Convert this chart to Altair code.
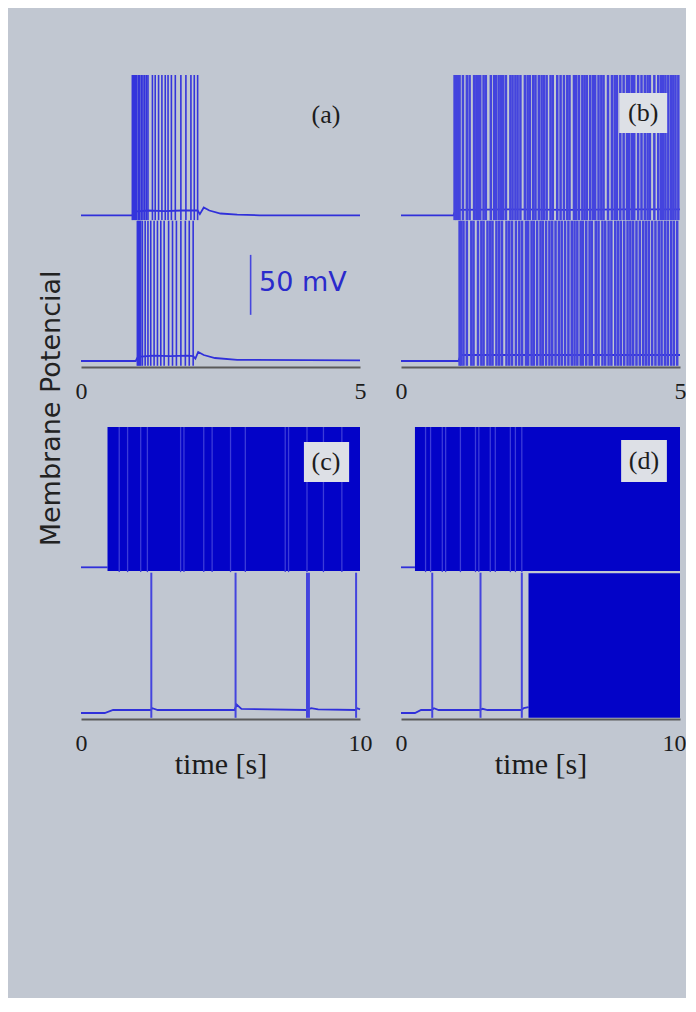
import altair as alt
import pandas as pd

# ---------------- style constants ----------------
BG = "#c1c7d1"
SPIKE = "#3434dc"
TRACE = "#3030da"
SOLID = "#0303c8"
GAP = "#3c3cd8"
BOX = "#dde0e6"
INK = "#1c1c1c"

W, H = 279, 292
Y_DOMAIN = [-70.0, 173.5]          # mV (upper trace shifted up by UP)
PEAK = 52.0
TROUGH = -69.0
UP = 121.5

# ---------------- data ----------------
# (a)  0..5 s
A_UP_SPIKES = [0.92, 0.94, 0.96, 0.98, 1.00, 1.03, 1.05, 1.08, 1.11, 1.14, 1.17, 1.20,
               1.28, 1.33, 1.39, 1.45, 1.51, 1.56, 1.62, 1.69, 1.79, 1.88, 1.97, 2.03, 2.09]
A_LO_SPIKES = [1.01, 1.03, 1.05, 1.07, 1.10, 1.15, 1.20, 1.25, 1.31, 1.37, 1.43, 1.49,
               1.57, 1.64, 1.71, 1.79, 1.87, 1.94, 2.01]
A_UP_T = [0, 0.92, 0.96, 1.2, 1.5, 1.8, 2.09, 2.13, 2.2, 2.3, 2.5, 2.8, 3.2, 5]
A_UP_V = [-65, -65, -62, -61, -61.5, -61, -61, -64, -58.5, -61, -63.5, -64.5, -65, -65]
A_LO_T = [0, 0.98, 1.02, 1.3, 1.6, 1.9, 2.01, 2.05, 2.1, 2.2, 2.4, 2.8, 5]
A_LO_V = [-65, -65, -61.5, -60.5, -61, -60.5, -61, -63, -57.5, -60, -62.5, -64, -64.5]

# (b)  0..5 s
B_UP_SPIKES = [0.96, 0.99, 1.02, 1.05, 1.11, 1.18, 1.23, 1.31, 1.35, 1.38, 1.42, 1.48, 1.52,
               1.61, 1.67, 1.70, 1.75, 1.79, 1.83, 1.88, 1.96, 2.00, 2.05, 2.09, 2.14, 2.22,
               2.27, 2.31, 2.37, 2.41, 2.47, 2.52, 2.56, 2.61, 2.68, 2.72, 2.80, 2.86, 2.92,
               2.98, 3.02, 3.10, 3.14, 3.19, 3.25, 3.29, 3.33, 3.39, 3.44, 3.48, 3.54, 3.59,
               3.63, 3.71, 3.78, 3.83, 3.87, 3.93, 3.99, 4.05, 4.09, 4.14, 4.18, 4.25, 4.31,
               4.37, 4.42, 4.46, 4.54, 4.61, 4.66, 4.70, 4.74, 4.79, 4.84, 4.88, 4.92, 4.97]
B_LO_SPIKES = [1.05, 1.08, 1.12, 1.18, 1.26, 1.30, 1.38, 1.44, 1.48, 1.55, 1.60, 1.64, 1.71,
               1.76, 1.81, 1.89, 1.94, 1.99, 2.06, 2.12, 2.17, 2.24, 2.28, 2.34, 2.38, 2.44,
               2.50, 2.54, 2.60, 2.66, 2.71, 2.77, 2.83, 2.88, 2.94, 3.00, 3.06, 3.11, 3.16,
               3.22, 3.26, 3.32, 3.38, 3.42, 3.49, 3.54, 3.61, 3.66, 3.72, 3.77, 3.84, 3.89,
               3.94, 4.00, 4.06, 4.11, 4.16, 4.22, 4.28, 4.34, 4.39, 4.44, 4.50, 4.56, 4.62,
               4.67, 4.73, 4.78, 4.84, 4.89, 4.95]
B_UP_T = [0, 0.94, 0.98, 2.0, 3.0, 4.0, 5]
B_UP_V = [-65, -65, -60.5, -60, -60.5, -60, -60]
B_LO_T = [0, 1.03, 1.07, 2.5, 5]
B_LO_V = [-65, -65, -60, -60, -60]

# (c)  0..10 s
C_UP_T = [0, 0.95]
C_UP_V = [-65, -65]
C_UP_BLOCK = [0.95, 10.0]
C_UP_GAPS = [1.37, 1.67, 2.14, 2.38, 3.57, 3.69, 4.40, 4.70, 5.36, 5.89, 7.32, 7.44, 8.10, 8.69, 9.35]
C_LO_SPIKES = [2.52, 5.54, 8.10, 8.17, 9.86]
C_LO_T = [0, 0.85, 1.15, 2.50, 2.56, 2.75, 5.50, 5.58, 5.75, 8.08, 8.25, 8.50, 9.84, 9.90, 10]
C_LO_V = [-65, -65, -62.5, -62.5, -61, -62.5, -62.5, -58, -61.5, -62.5, -61, -62, -62.5, -61, -62]

# (d)  0..10 s
D_UP_T = [0, 0.5]
D_UP_V = [-65, -65]
D_UP_BLOCK = [0.5, 10.0]
D_UP_GAPS = [0.88, 1.06, 1.48, 1.60, 2.13, 2.67, 2.79, 3.20, 3.38, 3.92, 4.10, 4.33]
D_LO_SPIKES = [1.12, 2.85, 4.33]
D_LO_T = [0, 0.5, 0.72, 1.10, 1.18, 1.35, 2.83, 2.92, 3.1, 4.30, 4.40, 4.57]
D_LO_V = [-65, -65, -62.5, -62.5, -61, -62.5, -62.5, -61.5, -62.5, -62.5, -61, -60]
D_LO_BLOCK = [4.57, 10.0]

PANEL_LABELS = ["(a)", "(b)", "(c)", "(d)"]


# ---------------- helpers ----------------
def xenc(xmax, title, flush=False):
    extra = {"labelFlush": True, "labelFlushOffset": 6} if flush else {"labelFlush": False}
    return alt.X(
        "t:Q",
        scale=alt.Scale(domain=[0, xmax], nice=False, zero=False),
        axis=alt.Axis(values=[0, xmax], format="d", labelFont="Liberation Serif",
                      labelFontSize=24, labelColor=INK, labelPadding=12, ticks=False,
                      grid=False, domainColor="#5a5a5a", domainWidth=2,
                      labelOverlap=False,
                      title=title, titleFont="Liberation Serif", titleFontSize=30,
                      titleFontWeight="normal", titleColor=INK, titlePadding=-6, **extra),
    )


def yenc(field="v"):
    return alt.Y(f"{field}:Q", scale=alt.Scale(domain=Y_DOMAIN, nice=False, zero=False), axis=None)


def spikes(times, offset, X, color=SPIKE, width=1.6):
    df = pd.DataFrame({"t": times, "v": [TROUGH + offset] * len(times),
                       "v2": [PEAK + offset] * len(times)})
    return alt.Chart(df).mark_rule(color=color, strokeWidth=width).encode(
        x=X, y=yenc(), y2="v2:Q")


def trace(ts, vs, offset, X):
    df = pd.DataFrame({"t": ts, "v": [v + offset for v in vs]})
    return alt.Chart(df).mark_line(color=TRACE, strokeWidth=1.8).encode(x=X, y=yenc())


def block(span, lo, hi, offset, X):
    df = pd.DataFrame({"t": [span[0]], "t2": [span[1]], "v": [lo + offset], "v2": [hi + offset]})
    return alt.Chart(df).mark_rect(color=SOLID).encode(x=X, x2="t2:Q", y=yenc(), y2="v2:Q")


def label(text, t, v, box, X):
    layers = []
    if box is not None:
        bdf = pd.DataFrame({"t": [box[0]], "t2": [box[1]], "v": [box[2]], "v2": [box[3]]})
        layers.append(alt.Chart(bdf).mark_rect(color=BOX).encode(
            x=X, x2="t2:Q", y=yenc(), y2="v2:Q"))
    tdf = pd.DataFrame({"t": [t], "v": [v], "s": [text]})
    layers.append(alt.Chart(tdf).mark_text(font="Liberation Serif", fontSize=26, color=INK,
                                           align="center", baseline="middle").encode(
        x=X, y=yenc(), text="s:N"))
    return layers


# ---------------- panels ----------------
XA = xenc(5, "")
XB = xenc(5, "")
XC = xenc(10, "time [s]")
XD = xenc(10, "time [s]", flush=True)

# (a)
bar_df = pd.DataFrame({"t": [3.04], "v": [-26.5], "v2": [23.5]})
txt_df = pd.DataFrame({"t": [3.19], "v": [0.2], "s": ["50 mV"]})
pa = alt.layer(
    trace(A_UP_T, A_UP_V, UP, XA),
    trace(A_LO_T, A_LO_V, 0, XA),
    spikes(A_UP_SPIKES, UP, XA),
    spikes(A_LO_SPIKES, 0, XA),
    alt.Chart(bar_df).mark_rule(color="#4646de", strokeWidth=1.6).encode(
        x=XA, y=yenc(), y2="v2:Q"),
    alt.Chart(txt_df).mark_text(font="DejaVu Sans", fontSize=27, color="#2a2acc",
                                align="left", baseline="middle").encode(
        x=XA, y=yenc(), text="s:N"),
    *label(PANEL_LABELS[0], 4.39, 140.2, None, XA),
).properties(width=W, height=H)

# (b)
pb = alt.layer(
    trace(B_UP_T, B_UP_V, UP, XB),
    trace(B_LO_T, B_LO_V, 0, XB),
    spikes(B_UP_SPIKES, UP, XB, color="#4444de", width=2.5),
    spikes(B_LO_SPIKES, 0, XB, color="#4444de", width=2.5),
    *label(PANEL_LABELS[1], 4.34, 141.8, [3.91, 4.77, 125.2, 158.5], XB),
).properties(width=W, height=H)

# (c)
pc = alt.layer(
    trace(C_UP_T, C_UP_V, UP, XC),
    block(C_UP_BLOCK, -68, PEAK, UP, XC),
    spikes(C_UP_GAPS, UP, XC, color=GAP, width=1.3),
    trace(C_LO_T, C_LO_V, 0, XC),
    spikes(C_LO_SPIKES, 0, XC, color="#4444de", width=2),
    *label(PANEL_LABELS[2], 8.78, 144.3, [7.99, 9.61, 127.7, 161.0], XC),
).properties(width=W, height=H)

# (d)
pd_ = alt.layer(
    trace(D_UP_T, D_UP_V, UP, XD),
    block(D_UP_BLOCK, -68, PEAK, UP, XD),
    spikes(D_UP_GAPS, UP, XD, color=GAP, width=1.3),
    trace(D_LO_T, D_LO_V, 0, XD),
    spikes(D_LO_SPIKES, 0, XD, color="#4444de", width=2),
    block(D_LO_BLOCK, -69, 51.5, 0, XD),
    *label(PANEL_LABELS[3], 8.71, 145.2, [7.89, 9.53, 127.7, 162.7], XD),
).properties(width=W, height=H)

chart = alt.concat(
    pa, pb, pc, pd_, columns=2, spacing={"row": 60, "column": 41}, bounds="flush"
).properties(
    background=BG,
    padding={"left": 29, "top": 65, "right": 0, "bottom": 219},
    title=alt.TitleParams("Membrane Potencial", orient="left", anchor="middle",
                          font="DejaVu Sans", fontSize=27, fontWeight="normal",
                          color="#222222", offset=9, dx=18),
).configure_view(strokeWidth=0)

chart.save("out.html", embed_options={"renderer": "svg", "actions": False})
